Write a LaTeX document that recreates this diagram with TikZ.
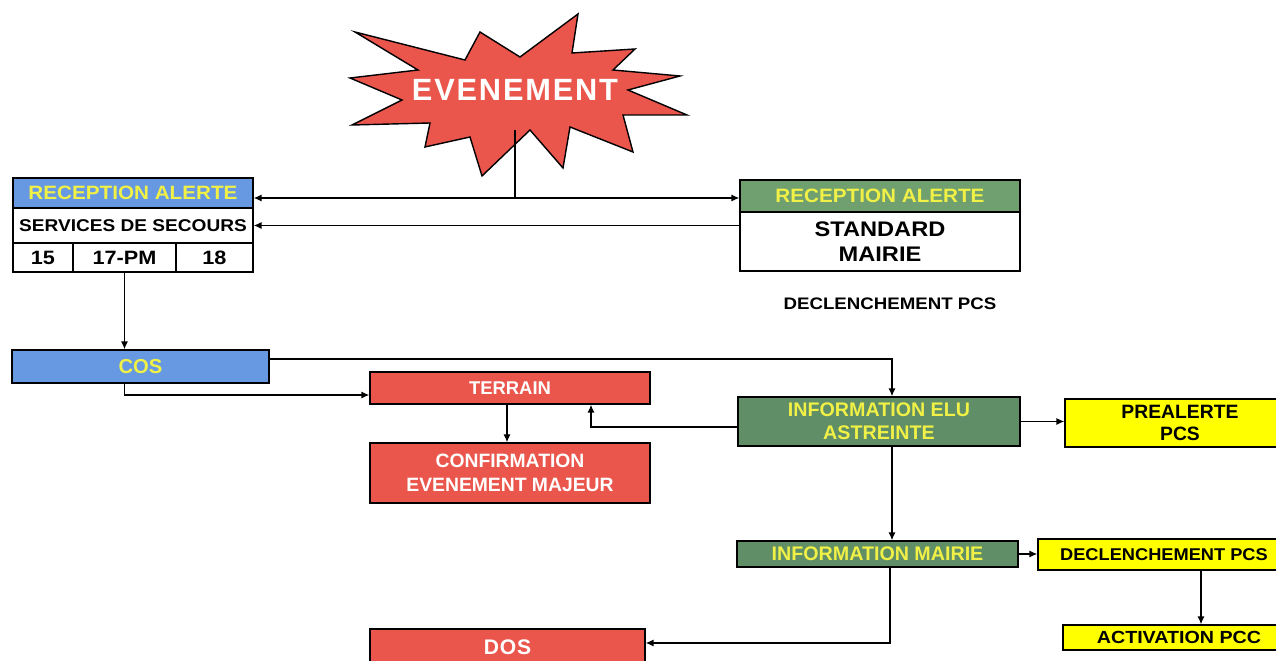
\documentclass[tikz,border=0pt]{standalone}
\usepackage{fontspec}
\setmainfont{Liberation Sans}
\newfontfamily\wide[FakeStretch=1.12]{Liberation Sans}
\newfontfamily\wider[FakeStretch=1.07]{Liberation Sans}
\usetikzlibrary{arrows.meta,positioning,calc}
\definecolor{hblue}{RGB}{102,153,225}
\definecolor{hgreen}{RGB}{112,160,112}
\definecolor{dgreen}{RGB}{96,142,102}
\definecolor{hred}{RGB}{234,86,76}
\definecolor{ytext}{RGB}{240,240,70}
\definecolor{ybox}{RGB}{255,255,0}
\tikzset{
  bx/.style={draw=black,line width=0.8pt,inner sep=0pt,align=center},
  ylw/.style={bx,fill=ybox,text=black},
  redb/.style={bx,fill=hred,text=white},
  arr/.style={line width=0.7pt,-{Latex[length=4.5pt,width=4pt]}},
  ln/.style={line width=0.7pt},
}
\begin{document}
\begin{tikzpicture}[x=0.02cm,y=-0.02cm]
\useasboundingbox (0,0) rectangle (1276,661);
% starburst
\draw[line width=0.8pt,fill=hred] (355,32) -- (465,60) -- (480,32) -- (520,57) -- (578,14) -- (572,53) -- (635,49) -- (613,70) -- (680,76) -- (628,90) -- (687,115) -- (623,115) -- (633,152) -- (570,127) -- (563,168) -- (530,130) -- (482,176) -- (470,137) -- (425,147) -- (430,123) -- (352,125) -- (402,100) -- (350,78) -- (418,70) -- cycle;
\node[text=white,font={\bfseries\fontsize{17.5}{20}\selectfont\addfontfeature{LetterSpace=6}}] (ev) at (515,90) {EVENEMENT};
\coordinate (burst) at (515,130);
\coordinate (j) at (515,198);
% left reception box
\node[bx,fill=hblue,text=ytext,minimum width=4.8cm,minimum height=0.6cm,font={\wider\bfseries\fontsize{11}{12}\selectfont}] (recL) at (133,193) {RECEPTION ALERTE};
\node[bx,fill=white,minimum width=4.8cm,minimum height=0.7cm,font={\wide\bfseries\fontsize{9.7}{11}\selectfont}] (serv) at (133,225.5) {SERVICES DE SECOURS};
\node[bx,fill=white,minimum width=1.2cm,minimum height=0.58cm,font={\wide\bfseries\fontsize{11}{12}\selectfont}] (c15) at (43,257.5) {15};
\node[bx,fill=white,minimum width=2.06cm,minimum height=0.58cm,font={\wide\bfseries\fontsize{11}{12}\selectfont}] (c17) at (124.5,257.5) {17-PM};
\node[bx,fill=white,minimum width=1.54cm,minimum height=0.58cm,font={\wide\bfseries\fontsize{11}{12}\selectfont}] (c18) at (214.5,257.5) {18};
% right reception box
\node[bx,fill=hgreen,text=ytext,minimum width=5.6cm,minimum height=0.64cm,font={\wider\bfseries\fontsize{11}{12}\selectfont}] (recR) at (880,196) {RECEPTION ALERTE};
\node[bx,fill=white,minimum width=5.6cm,minimum height=1.18cm,font={\wide\bfseries\fontsize{12}{14}\selectfont}] (std) at (880,241.5) {STANDARD\\MAIRIE};
\node[font={\wide\bfseries\fontsize{9.5}{11}\selectfont}] (dpcs) at (890,304) {DECLENCHEMENT PCS};
% COS and terrain
\node[bx,fill=hblue,text=ytext,minimum width=5.14cm,minimum height=0.66cm,font={\bfseries\fontsize{11.5}{13}\selectfont}] (cos) at (140.5,366.5) {COS};
\node[redb,minimum width=5.6cm,minimum height=0.64cm,font={\bfseries\fontsize{10.5}{12}\selectfont}] (terrain) at (510,388) {TERRAIN};
\node[redb,minimum width=5.6cm,minimum height=1.2cm,font={\bfseries\fontsize{11}{13.5}\selectfont}] (conf) at (510,473) {CONFIRMATION\\EVENEMENT MAJEUR};
% right side
\node[bx,fill=dgreen,text=ytext,minimum width=5.64cm,minimum height=0.98cm,font={\bfseries\fontsize{11.2}{13}\selectfont}] (elu) at (879,421.5) {INFORMATION ELU\\ASTREINTE};
\node[ylw,minimum width=4.6cm,minimum height=0.96cm,font={\bfseries\fontsize{11}{13}\selectfont}] (prea) at (1180,423) {PREALERTE\\PCS};
\node[bx,fill=dgreen,text=ytext,minimum width=5.62cm,minimum height=0.52cm,font={\bfseries\fontsize{11.2}{12}\selectfont}] (mairie) at (877.5,554) {INFORMATION MAIRIE};
\node[ylw,minimum width=5.04cm,minimum height=0.62cm,font={\wider\bfseries\fontsize{9.7}{11}\selectfont}] (decl) at (1164,554.5) {DECLENCHEMENT PCS};
\node[ylw,minimum width=4.64cm,minimum height=0.5cm,font={\wide\bfseries\fontsize{10}{11}\selectfont}] (act) at (1179,637.5) {ACTIVATION PCC};
\node[redb,minimum width=5.5cm,minimum height=1.02cm] (dos) at (507.5,654.5) {};
\node[text=white,font={\bfseries\fontsize{12}{13}\selectfont\addfontfeature{LetterSpace=4}}] (dostxt) at (507.5,647) {DOS};
% connectors
\draw[ln] (burst) -- (j);
\draw[arr] (j) -- (recL.east |- j);
\draw[arr] (j) -- (recR.west |- j);
\draw[arr] (recR.south west |- serv.east) -- (serv.east);
\draw[arr] (c17.south) -- (c17.south |- cos.north);
\coordinate (vx) at (892,0);
\draw[arr] ([yshift=0.15cm]cos.east) -| (vx |- elu.north);
\draw[arr] (c17.south |- cos.south) |- ([yshift=-0.14cm]terrain.west);
\draw[arr] (terrain.south -| 507,0) -- (conf.north -| 507,0);
\draw[arr] ([yshift=-0.11cm]elu.west) -| (591,0 |- terrain.south);
\draw[arr] (elu.east) -- (prea.west |- elu.east);
\draw[arr] (vx |- elu.south) -- (vx |- mairie.north);
\draw[arr] (mairie.east) -- (decl.west |- mairie.east);
\draw[arr] (1201,0 |- decl.south) -- (1201,0 |- act.north);
\draw[arr] (890,0 |- mairie.south) |- (dos.east |- 0,643);
\end{tikzpicture}
\end{document}
